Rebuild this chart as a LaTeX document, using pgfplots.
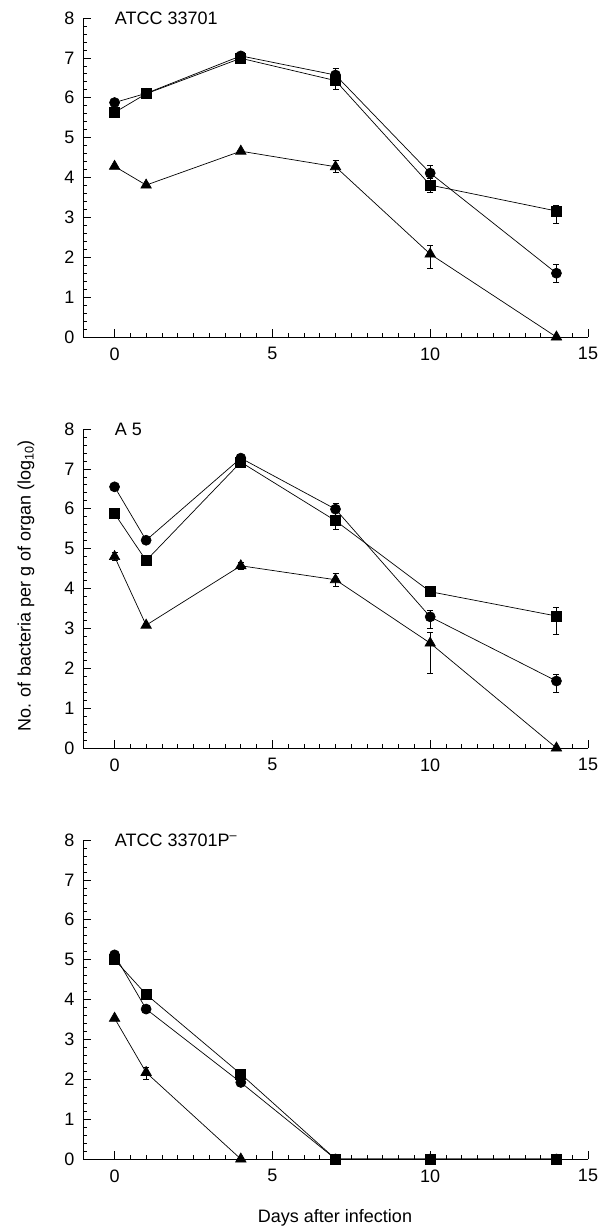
\documentclass[border=0pt]{standalone}
\usepackage{fontspec}
\setmainfont{Liberation Sans}
\usepackage{pgfplots}
\pgfplotsset{compat=1.18}

\newcommand{\lbl}{\fontsize{18}{21}\selectfont}

\pgfplotsset{
  panel/.style={
    scale only axis, width=505pt, height=319pt,
    xmin=-1, xmax=15, ymin=0, ymax=8,
    axis x line*=bottom, axis y line*=left,
    xtick={0,5,10,15}, ytick={0,1,...,8},
    minor x tick num=9, minor y tick num=4,
    tick align=inside,
    major tick length=8pt, minor tick length=4pt,
    tick style={black, line width=0.7pt},
    axis line style={black, line width=0.8pt},
    /pgf/number format/assume math mode=true,
    tick label style={font=\lbl},
    xticklabel style={yshift=-7pt},
    yticklabel style={xshift=-5pt},
    clip=false,
  },
  ser/.style={black, line width=0.7pt,
    error bars/y dir=both, error bars/y explicit,
    error bars/error bar style={black, line width=0.7pt},
    error bars/error mark options={rotate=90, mark size=3pt, line width=0.7pt}},
  circ/.style={ser, mark=*, mark size=5pt},
  sq/.style={ser, mark=square*, mark size=5pt},
  tri/.style={ser, mark=triangle*, mark size=6pt},
}

\begin{document}
\begin{tikzpicture}
\useasboundingbox (0,0) rectangle (605pt,-1227pt);

% ATCC 33701
\begin{axis}[panel, at={(83pt,-337pt)}, anchor=south west]
\addplot[tri] coordinates {
  (0,4.28) (1,3.81) (4,4.66) (7,4.27) +- (0,0.15)
  (10,2.08) += (0,0.22) -= (0,0.36) (14,0)
};
\addplot[circ] coordinates {
  (0,5.88) (1,6.11) (4,7.05) (7,6.57) +- (0,0.17)
  (10,4.11) +- (0,0.2) (14,1.60) +- (0,0.23)
};
\addplot[sq] coordinates {
  (0,5.63) (1,6.10) (4,6.99) (7,6.43) +- (0,0.22)
  (10,3.81) +- (0,0.17) (14,3.16) += (0,0.14) -= (0,0.3)
};
\node[anchor=west, font=\lbl] at (axis cs:-0.1,8) {ATCC 33701};
\end{axis}

% A 5
\begin{axis}[panel, at={(83pt,-748pt)}, anchor=south west]
\addplot[tri] coordinates {
  (0,4.80) +- (0,0.1) (1,3.08) (4,4.57) +- (0,0.08) (7,4.22) +- (0,0.16)
  (10,2.63) += (0,0.28) -= (0,0.75) (14,0)
};
\addplot[circ] coordinates {
  (0,6.55) (1,5.21) (4,7.27) (7,5.99) +- (0,0.15)
  (10,3.29) += (0,0.16) -= (0,0.29) (14,1.68) += (0,0.16) -= (0,0.28)
};
\addplot[sq] coordinates {
  (0,5.88) (1,4.70) (4,7.17) (7,5.70) +- (0,0.22)
  (10,3.92) (14,3.31) += (0,0.22) -= (0,0.45)
};
\node[anchor=west, font=\lbl] at (axis cs:-0.1,8) {A 5};
\end{axis}

% ATCC 33701P-
\begin{axis}[panel, at={(83pt,-1159pt)}, anchor=south west]
\addplot[tri] coordinates {
  (0,3.53) (1,2.17) += (0,0.14) -= (0,0.18) (4,0)
};
\addplot[circ] coordinates {
  (0,5.12) (1,3.76) (4,1.92) (7,0) (10,0) (14,0)
};
\addplot[sq] coordinates {
  (0,5.00) (1,4.13) (4,2.13) (7,0) (10,0) (14,0)
};
\node[anchor=west, font=\lbl] at (axis cs:-0.1,8) {ATCC 33701P\textsuperscript{\textendash}};
\end{axis}

\node[rotate=90, font=\lbl] at (26pt,-586pt) {No. of bacteria per g of organ (log\textsubscript{10})};
\node[font=\lbl] at (335pt,-1218pt) {Days after infection};
\end{tikzpicture}
\end{document}
